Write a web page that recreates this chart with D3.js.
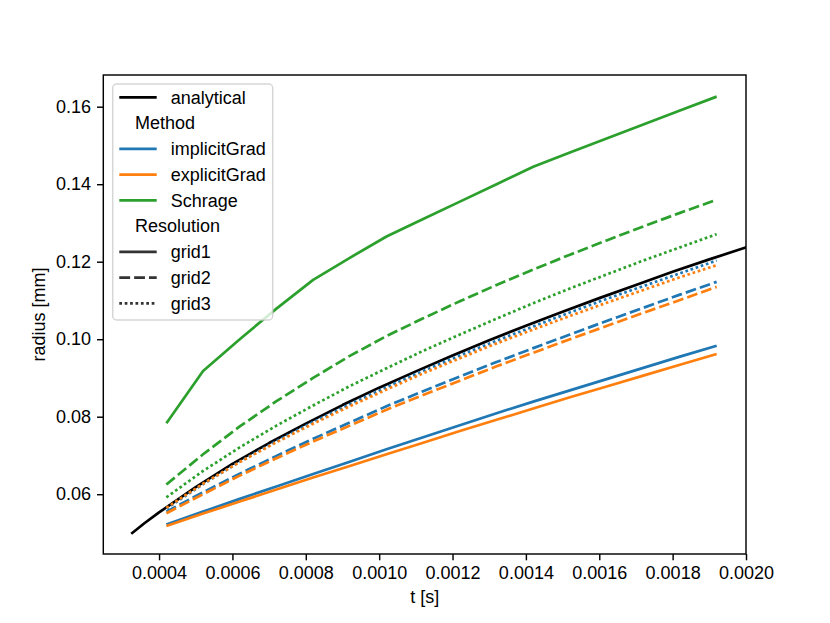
<!DOCTYPE html>
<html>
<head>
<meta charset="utf-8">
<script src="https://cdn.jsdelivr.net/npm/d3@7/dist/d3.min.js"></script>
<style>
  html, body { margin: 0; padding: 0; background: #fff; }
  svg { display: block; font-family: "Liberation Sans", Arial, sans-serif; }
</style>
</head>
<body>
<svg id="chart" width="830" height="623"></svg>
<script>
// ---------------- data ----------------
const tGrid = [0.00042, 0.00052, 0.00062, 0.00072, 0.00082, 0.00092, 0.00102, 0.00112,
               0.00122, 0.00132, 0.00142, 0.00152, 0.00162, 0.00172, 0.00182, 0.00192];

const tAnalytical = [0.000327, 0.00036, 0.0004, 0.0005, 0.0006, 0.0007, 0.0008, 0.0009, 0.0010,
                     0.0011, 0.0012, 0.0013, 0.0014, 0.0015, 0.0016, 0.0017, 0.0018, 0.0019, 0.0020];
const rAnalytical = [0.0500, 0.0525, 0.0553, 0.0618, 0.0678, 0.0732, 0.0782, 0.0830, 0.0875,
                     0.0917, 0.0958, 0.0997, 0.1035, 0.1071, 0.1106, 0.1140, 0.1174, 0.1206, 0.1237];

const implicitGrid1 = [0.0522, 0.0555, 0.0588, 0.0620, 0.0652, 0.0684, 0.0716, 0.0747,
                       0.0778, 0.0809, 0.0839, 0.0868, 0.0897, 0.0926, 0.0955, 0.0983];
const implicitGrid2 = [0.0555, 0.0605, 0.0653, 0.0699, 0.0743, 0.0785, 0.0827, 0.0866,
                       0.0904, 0.0941, 0.0977, 0.1012, 0.1047, 0.1081, 0.1115, 0.1148];
const implicitGrid3 = [0.0563, 0.0626, 0.0684, 0.0737, 0.0786, 0.0832, 0.0876, 0.0918,
                       0.0958, 0.0996, 0.1033, 0.1069, 0.1104, 0.1137, 0.1170, 0.1203];

const explicitGrid1 = [0.0518, 0.0550, 0.0581, 0.0612, 0.0643, 0.0673, 0.0703, 0.0733,
                       0.0763, 0.0792, 0.0821, 0.0850, 0.0878, 0.0906, 0.0934, 0.0962];
const explicitGrid2 = [0.0551, 0.0600, 0.0648, 0.0693, 0.0736, 0.0777, 0.0818, 0.0856,
                       0.0893, 0.0930, 0.0965, 0.1000, 0.1034, 0.1068, 0.1101, 0.1135];
const explicitGrid3 = [0.0565, 0.0627, 0.0683, 0.0734, 0.0782, 0.0827, 0.0870, 0.0912,
                       0.0951, 0.0989, 0.1025, 0.1060, 0.1094, 0.1127, 0.1160, 0.1191];

const schrageGrid1 = [0.0783, 0.0918, 0.1000, 0.1079, 0.1153, 0.1210, 0.1265, 0.1310,
                      0.1355, 0.1400, 0.1445, 0.1482, 0.1518, 0.1554, 0.1590, 0.1626];
const schrageGrid2 = [0.0625, 0.0703, 0.0775, 0.0840, 0.0900, 0.0957, 0.1008, 0.1054,
                      0.1098, 0.1140, 0.1180, 0.1218, 0.1255, 0.1291, 0.1326, 0.1360];
const schrageGrid3 = [0.0592, 0.0660, 0.0721, 0.0777, 0.0829, 0.0879, 0.0925, 0.0970,
                      0.1012, 0.1053, 0.1093, 0.1131, 0.1167, 0.1203, 0.1237, 0.1271];

const xTicks = [0.0004, 0.0006, 0.0008, 0.0010, 0.0012, 0.0014, 0.0016, 0.0018, 0.0020];
const xTickLabels = ["0.0004", "0.0006", "0.0008", "0.0010", "0.0012", "0.0014", "0.0016", "0.0018", "0.0020"];
const yTicks = [0.06, 0.08, 0.10, 0.12, 0.14, 0.16];
const yTickLabels = ["0.06", "0.08", "0.10", "0.12", "0.14", "0.16"];

const methods = ["implicitGrad", "explicitGrad", "Schrage"];
const resolutions = ["grid1", "grid2", "grid3"];

// ---------------- styles ----------------
const methodColors = { implicitGrad: "#1f77b4", explicitGrad: "#ff7f0e", Schrage: "#2ca02c" };
const lw = 2.7;
const dashes = { grid1: null, grid2: "10.8,4.05", grid3: "2.7,2.7" };

const seriesList = [
  { method: "implicitGrad", res: "grid1", values: implicitGrid1 },
  { method: "implicitGrad", res: "grid2", values: implicitGrid2 },
  { method: "implicitGrad", res: "grid3", values: implicitGrid3 },
  { method: "explicitGrad", res: "grid1", values: explicitGrid1 },
  { method: "explicitGrad", res: "grid2", values: explicitGrid2 },
  { method: "explicitGrad", res: "grid3", values: explicitGrid3 },
  { method: "Schrage", res: "grid1", values: schrageGrid1 },
  { method: "Schrage", res: "grid2", values: schrageGrid2 },
  { method: "Schrage", res: "grid3", values: schrageGrid3 }
];

// ---------------- layout ----------------
const svg = d3.select("#chart");
const plot = { left: 103.3, right: 746, top: 75, bottom: 554 };

const x = d3.scaleLinear().domain([0.000248, 0.0020]).range([plot.left, plot.right]);
const y = d3.scaleLinear().domain([0.04457, 0.16818]).range([plot.bottom, plot.top]);

svg.append("defs").append("clipPath").attr("id", "clip")
  .append("rect")
  .attr("x", plot.left).attr("y", plot.top)
  .attr("width", plot.right - plot.left).attr("height", plot.bottom - plot.top);

const lines = svg.append("g").attr("clip-path", "url(#clip)");
const line = d3.line().x(d => x(d[0])).y(d => y(d[1]));

// analytical first (underneath)
lines.append("path")
  .datum(tAnalytical.map((t, i) => [t, rAnalytical[i]]))
  .attr("d", line)
  .attr("fill", "none")
  .attr("stroke", "#000")
  .attr("stroke-width", lw)
  .attr("stroke-linecap", "square")
  .attr("stroke-linejoin", "round");

seriesList.forEach(s => {
  lines.append("path")
    .datum(tGrid.map((t, i) => [t, s.values[i]]))
    .attr("d", line)
    .attr("fill", "none")
    .attr("stroke", methodColors[s.method])
    .attr("stroke-width", lw)
    .attr("stroke-dasharray", dashes[s.res])
    .attr("stroke-linecap", "butt")
    .attr("stroke-linejoin", "round");
});

// ---------------- axes ----------------
const fontSize = 18;
const xAxis = d3.axisBottom(x).tickValues(xTicks).tickFormat((d, i) => xTickLabels[i])
  .tickSizeInner(6.3).tickSizeOuter(0).tickPadding(6);
const yAxis = d3.axisLeft(y).tickValues(yTicks).tickFormat((d, i) => yTickLabels[i])
  .tickSizeInner(6.3).tickSizeOuter(0).tickPadding(6);

const gx = svg.append("g").attr("transform", `translate(0,${plot.bottom})`).call(xAxis);
const gy = svg.append("g").attr("transform", `translate(${plot.left},0)`).call(yAxis);
[gx, gy].forEach(g => {
  g.select(".domain").remove();
  g.selectAll(".tick line").attr("stroke", "#000").attr("stroke-width", 1.44);
  g.selectAll(".tick text").attr("fill", "#000").style("font-size", fontSize + "px")
    .style("font-family", '"Liberation Sans", Arial, sans-serif');
});

// frame (spines)
svg.append("rect")
  .attr("x", plot.left).attr("y", plot.top)
  .attr("width", plot.right - plot.left).attr("height", plot.bottom - plot.top)
  .attr("fill", "none").attr("stroke", "#000").attr("stroke-width", 1.44);

// axis labels
svg.append("text")
  .attr("x", (plot.left + plot.right) / 2).attr("y", 603)
  .attr("text-anchor", "middle").style("font-size", fontSize + "px").attr("fill", "#000")
  .text("t [s]");
svg.append("text")
  .attr("transform", `translate(45,${(plot.top + plot.bottom) / 2}) rotate(-90)`)
  .attr("text-anchor", "middle").style("font-size", fontSize + "px").attr("fill", "#000")
  .text("radius [mm]");

// ---------------- legend ----------------
const legend = svg.append("g");
legend.append("rect")
  .attr("x", 112.7).attr("y", 84).attr("width", 160).attr("height", 236)
  .attr("rx", 4).attr("ry", 4)
  .attr("fill", "#fff").attr("fill-opacity", 0.8)
  .attr("stroke", "#cccccc").attr("stroke-opacity", 0.8).attr("stroke-width", 1.44);

const legendItems = [
  { label: "analytical", color: "#000", dash: null },
  { label: "Method", title: true },
  { label: "implicitGrad", color: methodColors.implicitGrad, dash: null },
  { label: "explicitGrad", color: methodColors.explicitGrad, dash: null },
  { label: "Schrage", color: methodColors.Schrage, dash: null },
  { label: "Resolution", title: true },
  { label: "grid1", color: "#333333", dash: dashes.grid1 },
  { label: "grid2", color: "#333333", dash: dashes.grid2 },
  { label: "grid3", color: "#333333", dash: dashes.grid3 }
];
const rowY = d3.scaleLinear().domain([0, 8]).range([97.3, 303.3]);
legendItems.forEach((it, i) => {
  const yy = rowY(i);
  if (!it.title) {
    legend.append("line")
      .attr("x1", 119.3).attr("x2", 156.7).attr("y1", yy).attr("y2", yy)
      .attr("stroke", it.color).attr("stroke-width", lw)
      .attr("stroke-dasharray", it.dash);
  }
  legend.append("text")
    .attr("x", it.title ? 135 : 170.7).attr("y", yy).attr("dy", "0.35em")
    .style("font-size", fontSize + "px").attr("fill", "#000")
    .text(it.label);
});
</script>
</body>
</html>
